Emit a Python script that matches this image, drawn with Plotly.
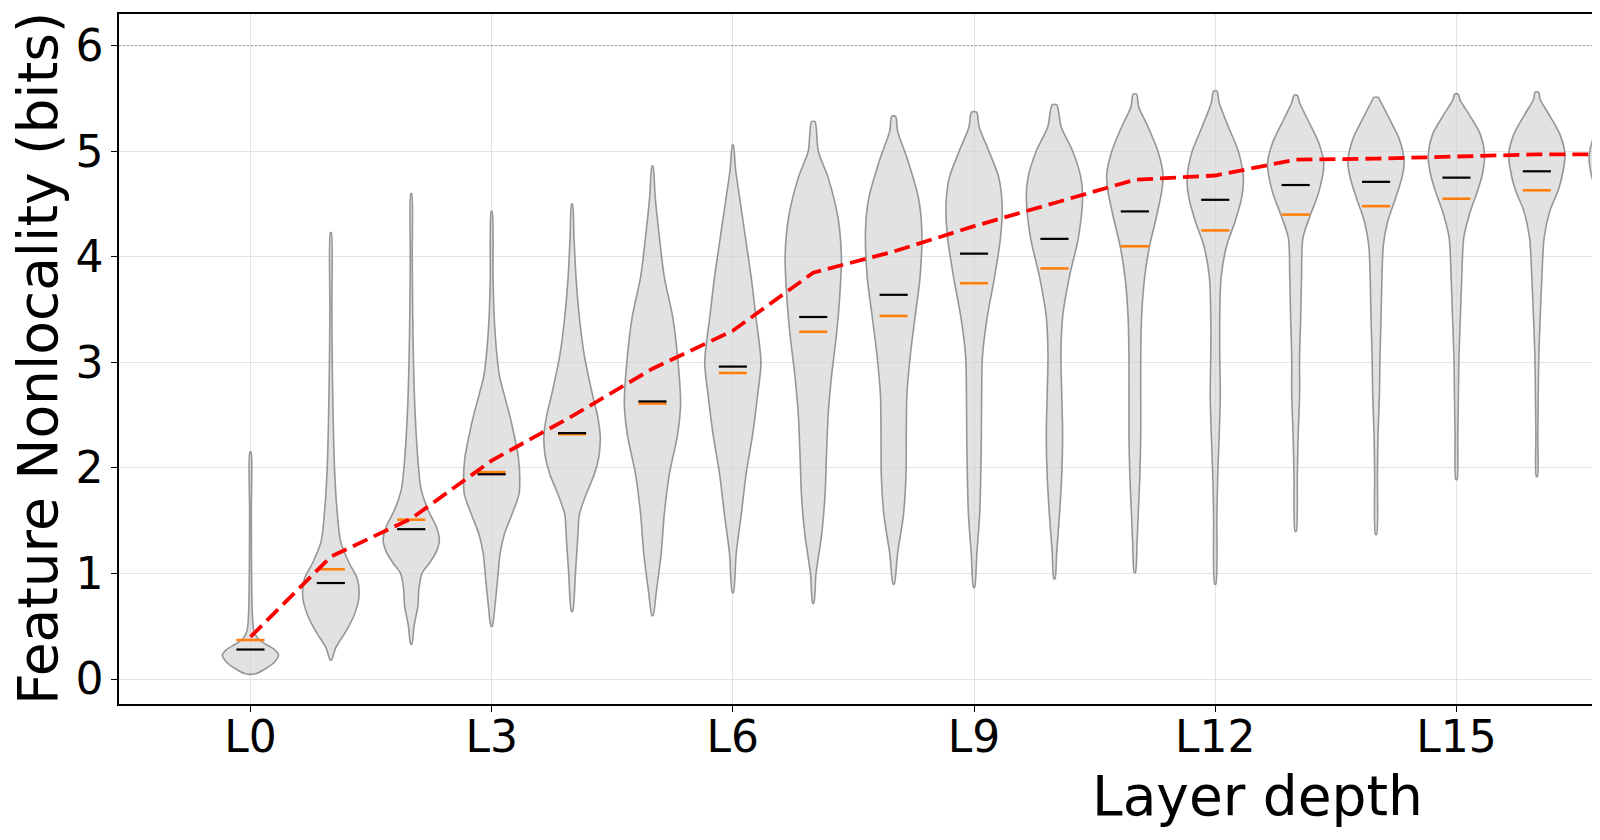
import plotly.graph_objects as go

# ---------------- data ----------------
layers = list(range(18))                      # L0 .. L17 (L17 partially visible)
tick_vals = [0, 3, 6, 9, 12, 15, 18, 21, 24]
tick_text = ["L0", "L3", "L6", "L9", "L12", "L15", "L18", "L21", "L24"]

median_vals = [0.28, 0.91, 1.42, 1.94, 2.33, 2.63, 2.96, 3.43, 3.64, 4.03,
               4.17, 4.43, 4.54, 4.68, 4.71, 4.75, 4.81, 4.85]
mean_vals = [0.37, 1.04, 1.51, 1.96, 2.32, 2.61, 2.90, 3.29, 3.44, 3.75,
             3.89, 4.10, 4.25, 4.40, 4.48, 4.55, 4.63, 4.68]
trend_vals = [0.40, 1.16, 1.52, 2.07, 2.49, 2.94, 3.30, 3.85, 4.05, 4.29,
              4.51, 4.73, 4.77, 4.92, 4.93, 4.95, 4.97, 4.97]
ceiling_val = 6.0

# violin density profiles: y levels and relative half-widths (1 = widest)
violin_y = [
    [0.05, 0.10, 0.16, 0.23, 0.28, 0.33, 0.38, 0.45, 0.55, 0.80, 1.20, 1.60, 2.15],
    [0.18, 0.30, 0.45, 0.60, 0.78, 0.95, 1.10, 1.30, 1.60, 2.00, 2.50, 3.00, 3.50, 4.23],
    [0.33, 0.50, 0.70, 0.85, 1.00, 1.10, 1.20, 1.32, 1.45, 1.60, 1.80, 2.00, 2.50, 3.00, 3.50, 4.00, 4.60],
    [0.50, 0.70, 1.00, 1.19, 1.37, 1.56, 1.75, 1.90, 2.10, 2.31, 2.50, 2.69, 2.87, 3.06, 3.43, 3.80, 4.43],
    [0.64, 1.00, 1.37, 1.56, 1.75, 1.94, 2.12, 2.31, 2.50, 2.69, 3.06, 3.43, 3.81, 4.18, 4.50],
    [0.60, 0.81, 1.19, 1.56, 1.94, 2.31, 2.61, 3.06, 3.43, 3.81, 4.18, 4.56, 4.86],
    [0.82, 1.19, 1.56, 1.94, 2.31, 2.69, 3.00, 3.43, 3.81, 4.18, 4.56, 4.82, 5.06],
    [0.72, 1.00, 1.37, 1.75, 2.12, 2.50, 2.87, 3.25, 3.62, 4.00, 4.37, 4.75, 5.00, 5.28],
    [0.90, 1.19, 1.56, 1.94, 2.31, 2.69, 3.06, 3.43, 3.81, 4.26, 4.56, 4.94, 5.19, 5.33],
    [0.87, 1.19, 1.56, 1.94, 2.31, 2.69, 3.06, 3.43, 3.81, 4.18, 4.48, 4.75, 5.00, 5.23, 5.37],
    [0.95, 1.20, 1.56, 1.94, 2.31, 2.69, 3.06, 3.43, 3.81, 4.18, 4.56, 4.75, 5.00, 5.23, 5.44],
    [1.01, 1.30, 1.56, 1.94, 2.31, 2.69, 3.06, 3.43, 3.81, 4.11, 4.37, 4.63, 4.78, 5.00, 5.23, 5.42, 5.54],
    [0.90, 1.56, 1.94, 2.31, 2.69, 3.06, 3.43, 3.81, 4.11, 4.33, 4.56, 4.75, 5.00, 5.23, 5.46, 5.57],
    [1.40, 1.94, 2.31, 2.69, 3.06, 3.43, 3.81, 4.18, 4.40, 4.61, 4.88, 5.08, 5.31, 5.46, 5.53],
    [1.37, 1.94, 2.31, 2.69, 3.06, 3.43, 3.81, 4.11, 4.33, 4.56, 4.75, 4.90, 5.12, 5.31, 5.46, 5.51],
    [1.89, 2.31, 2.69, 3.06, 3.43, 3.81, 4.18, 4.41, 4.61, 4.78, 4.97, 5.16, 5.34, 5.48, 5.54],
    [1.92, 2.31, 2.69, 3.06, 3.43, 3.81, 4.18, 4.44, 4.63, 4.82, 4.97, 5.16, 5.34, 5.49, 5.56],
    [2.00, 2.31, 2.69, 3.06, 3.43, 3.81, 4.18, 4.44, 4.63, 4.80, 4.95, 5.15, 5.33, 5.48, 5.55],
]
violin_w = [
    [0.18, 0.55, 0.85, 1.00, 0.85, 0.55, 0.28, 0.13, 0.08, 0.05, 0.035, 0.03, 0.02],
    [0.02, 0.18, 0.53, 0.82, 1.00, 0.94, 0.65, 0.35, 0.22, 0.13, 0.08, 0.05, 0.035, 0.015],
    [0.02, 0.10, 0.24, 0.27, 0.38, 0.65, 0.88, 1.00, 0.88, 0.60, 0.35, 0.26, 0.14, 0.08, 0.05, 0.035, 0.015],
    [0.02, 0.12, 0.23, 0.30, 0.45, 0.72, 0.97, 1.00, 0.95, 0.80, 0.64, 0.45, 0.28, 0.19, 0.09, 0.05, 0.015],
    [0.02, 0.12, 0.21, 0.26, 0.50, 0.79, 0.96, 1.00, 0.90, 0.73, 0.44, 0.26, 0.14, 0.07, 0.015],
    [0.02, 0.13, 0.31, 0.42, 0.60, 0.89, 1.00, 0.89, 0.72, 0.42, 0.25, 0.10, 0.015],
    [0.02, 0.12, 0.30, 0.47, 0.70, 0.88, 1.00, 0.82, 0.65, 0.45, 0.24, 0.10, 0.015],
    [0.02, 0.10, 0.30, 0.42, 0.47, 0.53, 0.65, 0.82, 0.94, 1.00, 0.88, 0.53, 0.18, 0.06],
    [0.02, 0.14, 0.35, 0.44, 0.45, 0.47, 0.59, 0.76, 0.94, 1.00, 0.88, 0.47, 0.14, 0.07],
    [0.02, 0.10, 0.20, 0.24, 0.26, 0.27, 0.30, 0.47, 0.73, 0.94, 1.00, 0.88, 0.53, 0.18, 0.09],
    [0.02, 0.08, 0.18, 0.26, 0.29, 0.26, 0.23, 0.29, 0.53, 0.85, 1.00, 0.94, 0.65, 0.24, 0.08],
    [0.02, 0.08, 0.12, 0.18, 0.21, 0.21, 0.21, 0.24, 0.35, 0.53, 0.76, 0.96, 1.00, 0.82, 0.47, 0.14, 0.06],
    [0.02, 0.06, 0.09, 0.14, 0.18, 0.16, 0.16, 0.21, 0.41, 0.70, 0.94, 1.00, 0.82, 0.47, 0.14, 0.06],
    [0.02, 0.06, 0.09, 0.14, 0.14, 0.18, 0.21, 0.26, 0.53, 0.82, 1.00, 0.82, 0.41, 0.14, 0.06],
    [0.02, 0.05, 0.07, 0.12, 0.14, 0.18, 0.21, 0.26, 0.41, 0.70, 0.92, 1.00, 0.82, 0.47, 0.18, 0.08],
    [0.02, 0.05, 0.07, 0.09, 0.14, 0.19, 0.26, 0.47, 0.73, 0.92, 1.00, 0.85, 0.47, 0.14, 0.06],
    [0.02, 0.035, 0.05, 0.07, 0.12, 0.18, 0.26, 0.47, 0.76, 0.94, 1.00, 0.82, 0.45, 0.12, 0.06],
    [0.02, 0.035, 0.05, 0.07, 0.12, 0.18, 0.26, 0.47, 0.76, 0.94, 1.00, 0.82, 0.45, 0.12, 0.06],
]

# ---------------- styling ----------------
FONT = "DejaVu Sans"
VIOLIN_HALF = 0.35      # half of the violin width in layer units
BAR_HALF = 0.175        # half-length of mean / median bars

fig = go.Figure()

# violins
for c, ys, ws in zip(layers, violin_y, violin_w):
    xr = [c + w * VIOLIN_HALF for w in ws]
    xl = [c - w * VIOLIN_HALF for w in reversed(ws)]
    fig.add_trace(go.Scatter(
        x=xr + xl + [xr[0]],
        y=ys + ys[::-1] + [ys[0]],
        mode="lines",
        line=dict(color="rgba(128,128,128,0.8)", width=1.6, shape="spline", smoothing=0.8),
        fill="toself",
        fillcolor="rgba(211,211,211,0.65)",
        hoverinfo="skip",
        showlegend=False,
    ))

def bars(values):
    xs, ys = [], []
    for c, v in zip(layers, values):
        xs += [c - BAR_HALF, c + BAR_HALF, None]
        ys += [v, v, None]
    return xs, ys

bx, by = bars(mean_vals)
fig.add_trace(go.Scatter(x=bx, y=by, mode="lines",
                         line=dict(color="#ff7f0e", width=2.6),
                         name="Mean", showlegend=False))
bx, by = bars(median_vals)
fig.add_trace(go.Scatter(x=bx, y=by, mode="lines",
                         line=dict(color="black", width=2.2),
                         name="Median", showlegend=False))

# trend line
fig.add_trace(go.Scatter(x=layers, y=trend_vals, mode="lines",
                         line=dict(color="#ff0000", width=3.8, dash="16px,7px"),
                         showlegend=False))

# ceiling reference line
fig.add_shape(type="line", xref="paper", x0=0, x1=1, y0=ceiling_val, y1=ceiling_val,
              line=dict(color="#a8a8a8", width=1.1, dash="2px,2px"))

# axis titles as annotations (plot area is cropped on the right)
fig.add_annotation(text="Layer depth", xref="paper", yref="paper", x=0.773, y=0,
                   xanchor="center", yanchor="top", yshift=-58, showarrow=False,
                   font=dict(family=FONT, size=55, color="black"))
fig.add_annotation(text="Feature Nonlocality (bits)", xref="paper", yref="paper", x=0, y=0.5,
                   xanchor="center", yanchor="middle", xshift=-81, textangle=-90,
                   showarrow=False, font=dict(family=FONT, size=55, color="black"))

fig.update_layout(
    width=1584, height=824,
    margin=dict(l=111, r=0, t=6, b=128),
    paper_bgcolor="white", plot_bgcolor="white",
    font=dict(family=FONT, color="black"),
    showlegend=False,
)
fig.update_xaxes(
    range=[-1.635, 16.686],
    tickvals=tick_vals, ticktext=tick_text,
    tickfont=dict(family=FONT, size=44, color="black"),
    ticks="outside", ticklen=6, tickwidth=1.2, tickcolor="black",
    showline=True, linecolor="black", linewidth=1.5, mirror=True,
    showgrid=True, gridcolor="#e3e3e3", gridwidth=1.2,
    zeroline=False, ticklabelstandoff=-13,
)
fig.update_yaxes(
    range=[-0.236, 6.30],
    tickvals=[0, 1, 2, 3, 4, 5, 6],
    tickfont=dict(family=FONT, size=44, color="black"),
    ticks="outside", ticklen=6, tickwidth=1.2, tickcolor="black",
    showline=True, linecolor="black", linewidth=1.5, mirror=False,
    showgrid=True, gridcolor="#e3e3e3", gridwidth=1.2,
    zeroline=False, ticklabelstandoff=-1,
)

fig.write_html("out.html")
